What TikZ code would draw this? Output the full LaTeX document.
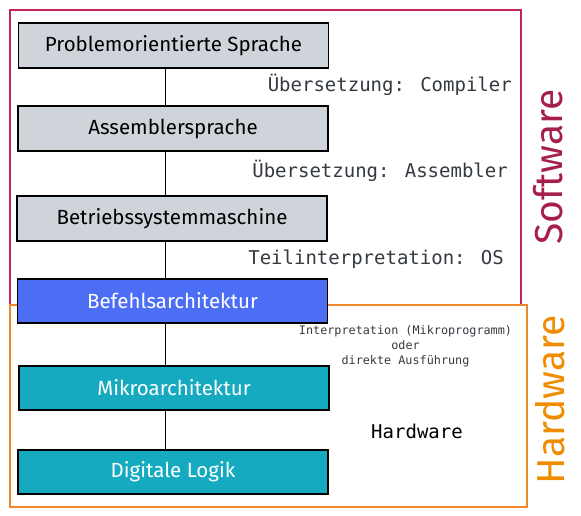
\documentclass[tikz,border=0pt]{standalone}
\usepackage{fontspec}
\setmainfont{Fira Sans}
\newfontfamily\monofont{DejaVu Sans Mono}
\definecolor{boxgray}{HTML}{CED4DA}
\definecolor{boxblue}{HTML}{4C6EF5}
\definecolor{boxteal}{HTML}{15AABF}
\definecolor{swcol}{HTML}{A61E4D}
\definecolor{swframe}{HTML}{C2255C}
\definecolor{hwcol}{HTML}{F08C00}
\definecolor{hwframe}{HTML}{F0862C}
\definecolor{labgray}{HTML}{343A40}
\begin{document}
\begin{tikzpicture}[x=1pt,y=-1pt,
  layer/.style={draw=black,line width=1.1pt,minimum width=310pt,minimum height=45pt,inner sep=0pt,font=\fontsize{20.5}{24}\selectfont},
  graylayer/.style={layer,fill=boxgray,text=black},
  bluelayer/.style={layer,fill=boxblue,text=white},
  teallayer/.style={layer,fill=boxteal,text=white},
  biglabel/.style={font=\monofont\fontsize{19}{22}\selectfont,text=labgray,inner sep=0pt},
  smalllabel/.style={font=\monofont\fontsize{11.8}{14.8}\selectfont,text=labgray,inner sep=0pt,align=center},
  sidelabel/.style={font=\fontsize{39}{44}\selectfont,rotate=90,inner sep=0pt},
  conn/.style={draw=black,line width=0.8pt}]
\useasboundingbox (0,0) rectangle (581,516);
% frames
\node[draw=swframe,line width=1.2pt,minimum width=511pt,minimum height=295pt,inner sep=0pt] (swbox) at (265.5,157.5) {};
\node[draw=hwframe,line width=1.2pt,minimum width=517pt,minimum height=202pt,inner sep=0pt] (hwbox) at (268.5,406) {};
% layers
\node[graylayer] (b1) at (173.5,45.5) {Problemorientierte Sprache};
\node[graylayer] (b2) at (173,128.5) {Assemblersprache};
\node[graylayer] (b3) at (172,218.5) {Betriebssystemmaschine};
\node[bluelayer,minimum height=44pt] (b4) at (172.5,301) {Befehlsarchitektur};
\node[teallayer,minimum height=44pt] (b5) at (174,388) {Mikroarchitektur};
\node[teallayer,minimum height=44pt] (b6) at (173,472) {Digitale Logik};
% connectors
\draw[conn] ([xshift=-8.5pt]b1.south) -- ([xshift=-8pt]b2.north);
\draw[conn] ([xshift=-8pt]b2.south) -- ([xshift=-7pt]b3.north);
\draw[conn] ([xshift=-7pt]b3.south) -- ([xshift=-7.5pt]b4.north);
\draw[conn] ([xshift=-7.5pt]b4.south) -- ([xshift=-9pt]b5.north);
\draw[conn] ([xshift=-9pt]b5.south) -- ([xshift=-8pt]b6.north);
% labels
\node[biglabel,anchor=east] (l1) at (512,85) {Übersetzung: Compiler};
\node[biglabel,anchor=east] (l2) at (508,171) {Übersetzung: Assembler};
\node[biglabel,anchor=east] (l3) at (504,259) {Teilinterpretation: OS};
\node[smalllabel] (l4) at (405.5,346) {Interpretation (Mikroprogramm)\\oder\\direkte Ausführung};
\node[biglabel,text=black] (l5) at (417,431) {Hardware};
\node[sidelabel,text=swcol] (sw) at (548,167) {Software};
\node[sidelabel,text=hwcol] (hw) at (550,400) {Hardware};
\end{tikzpicture}
\end{document}
